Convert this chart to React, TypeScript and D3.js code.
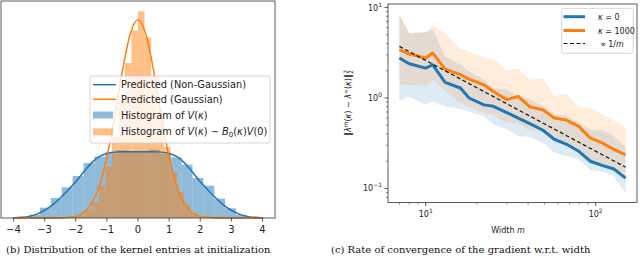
import React from "react";
import * as d3 from "d3";

// ---------- left panel: histograms + predicted densities ----------
const gridX = [-4, -3.75, -3.5, -3.25, -3, -2.75, -2.5, -2.25, -2, -1.75, -1.5, -1.25, -1, -0.75, -0.5, -0.25, 0,
  0.25, 0.5, 0.75, 1, 1.25, 1.5, 1.75, 2, 2.25, 2.5, 2.75, 3, 3.25, 3.5, 3.75, 4];
const predNonGauss = [0, 0.002, 0.005, 0.012, 0.024, 0.04, 0.062, 0.086, 0.112, 0.142, 0.17, 0.19, 0.2, 0.204, 0.205, 0.205, 0.205,
  0.205, 0.205, 0.204, 0.2, 0.19, 0.17, 0.142, 0.112, 0.086, 0.062, 0.04, 0.024, 0.012, 0.005, 0.002, 0];
const predGauss = [0, 0, 0, 0, 0, 0, 0, 0.002, 0.005, 0.016, 0.043, 0.097, 0.188, 0.315, 0.457, 0.57, 0.614,
  0.57, 0.457, 0.315, 0.188, 0.097, 0.043, 0.016, 0.005, 0.002, 0, 0, 0, 0, 0, 0, 0];

const binsV = [-3.5, -3.15, -2.8, -2.45, -2.1, -1.75, -1.4, -1.05, -0.7, -0.35, 0, 0.35, 0.7, 1.05, 1.4, 1.75, 2.1, 2.45, 2.8, 3.15, 3.5];
const histV = [0.01, 0.032, 0.062, 0.095, 0.13, 0.17, 0.19, 0.205, 0.21, 0.205, 0.208, 0.212, 0.2, 0.188, 0.165, 0.124, 0.1, 0.06, 0.03, 0.01];
const binsVB = [-2.1, -1.89, -1.68, -1.47, -1.26, -1.05, -0.84, -0.63, -0.42, -0.21, 0, 0.21, 0.42, 0.63, 0.84, 1.05, 1.26, 1.47, 1.68, 1.89, 2.1];
const histVB = [0.004, 0.01, 0.025, 0.05, 0.1, 0.16, 0.25, 0.36, 0.48, 0.58, 0.64, 0.56, 0.44, 0.33, 0.22, 0.14, 0.08, 0.04, 0.015, 0.005];
const xTicksL = [-4, -3, -2, -1, 0, 1, 2, 3, 4];

// ---------- right panel: convergence vs width ----------
const widths = [7, 8, 10, 11, 13, 16, 18, 22, 25, 30, 35, 41, 49, 57, 67, 79, 93, 109, 128, 150];
const errK0 = [2.77, 2.39, 2.14, 2.33, 1.49, 1.29, 1.0, 0.84, 0.81, 0.69, 0.6, 0.52, 0.44, 0.35, 0.31, 0.26, 0.2, 0.18, 0.164, 0.13];
const errK0Lo = [0.92, 1.04, 0.84, 0.92, 0.81, 0.75, 0.71, 0.63, 0.51, 0.45, 0.38, 0.37, 0.32, 0.25, 0.23, 0.21, 0.16, 0.155, 0.136, 0.09];
const errK0Hi = [8.3, 5.2, 5.3, 5.7, 2.88, 2.33, 1.97, 1.59, 1.29, 1.23, 1.04, 0.96, 0.81, 0.65, 0.65, 0.53, 0.45, 0.44, 0.38, 0.29];
const errK1000 = [3.42, 3.06, 2.77, 3.14, 2.09, 1.81, 1.62, 1.4, 1.18, 0.96, 1.04, 0.8, 0.74, 0.6, 0.57, 0.49, 0.36, 0.32, 0.27, 0.236];
const errK1000Lo = [1.4, 1.4, 1.37, 1.59, 1.21, 0.88, 0.81, 0.68, 0.65, 0.53, 0.53, 0.43, 0.42, 0.35, 0.31, 0.257, 0.19, 0.18, 0.16, 0.149];
const errK1000Hi = [8.3, 5.2, 5.4, 6.3, 5.2, 3.5, 3.27, 2.77, 2.7, 2.02, 2.1, 1.59, 1.65, 1.04, 1.13, 0.8, 0.77, 0.66, 0.56, 0.47];
const refM = [7, 150];
const refVal = [3.72, 0.172];

const BLUE = "#1f77b4";
const ORANGE = "#ff7f0e";
const FONT = "DejaVu Sans, sans-serif";

function LeftPanel() {
  const x = d3.scaleLinear().domain([-4.4, 4.4]).range([1, 275]);
  const y = d3.scaleLinear().domain([0, 0.672]).range([218, 1]);
  const line = d3.line<number>().x((d, i) => x(gridX[i])).y(d => y(d)).curve(d3.curveMonotoneX);

  const bars = (edges: number[], h: number[], color: string) =>
    h.map((v, i) => (
      <rect key={i} x={x(edges[i])} y={y(v)} width={x(edges[i + 1]) - x(edges[i])} height={y(0) - y(v)}
        fill={color} fillOpacity={0.5} />
    ));

  const lx = 90, ly = 76;
  return (
    <g>
      {bars(binsV, histV, BLUE)}
      {bars(binsVB, histVB, ORANGE)}
      <path d={line(predNonGauss)!} fill="none" stroke={BLUE} strokeWidth={1.5} />
      <path d={line(predGauss)!} fill="none" stroke={ORANGE} strokeWidth={1.5} />
      <rect x={1} y={1} width={274} height={217} fill="none" stroke="#333" strokeWidth={0.8} />
      {xTicksL.map(t => (
        <g key={t} transform={`translate(${x(t)},218)`}>
          <line y2={3.5} stroke="#333" strokeWidth={0.8} />
          <text y={15} textAnchor="middle" fontSize={10} fontFamily={FONT} fill="#222">
            {t < 0 ? "\u2212" + Math.abs(t) : t}
          </text>
        </g>
      ))}
      {/* legend */}
      <rect x={lx} y={ly} width={180} height={67} rx={2} fill="white" fillOpacity={0.8} stroke="#ccc" strokeWidth={0.8} />
      <line x1={93} x2={116} y1={84.7} y2={84.7} stroke={BLUE} strokeWidth={1.5} />
      <line x1={93} x2={116} y1={99.3} y2={99.3} stroke={ORANGE} strokeWidth={1.5} />
      <rect x={93} y={111.5} width={20} height={7} fill={BLUE} fillOpacity={0.5} />
      <rect x={93} y={128.3} width={20} height={7} fill={ORANGE} fillOpacity={0.5} />
      <g fontSize={9.8} fontFamily={FONT} fill="#222">
        <text x={121} y={88}>Predicted (Non-Gaussian)</text>
        <text x={121} y={102.6}>Predicted (Gaussian)</text>
        <text x={121} y={118.6}>Histogram of <tspan fontStyle="italic">V</tspan>(<tspan fontStyle="italic">κ</tspan>)</text>
        <text x={121} y={135.3}>Histogram of <tspan fontStyle="italic">V</tspan>(<tspan fontStyle="italic">κ</tspan>) − <tspan fontStyle="italic">B</tspan><tspan fontSize={7} dy={2}>0</tspan><tspan dy={-2}>(</tspan><tspan fontStyle="italic">κ</tspan>)<tspan fontStyle="italic">V</tspan>(0)</text>
      </g>
    </g>
  );
}

function RightPanel() {
  const x = d3.scaleLog().domain([6.0, 175]).range([388, 637]);
  const y = d3.scaleLog().domain([0.07, 10.94]).range([202.5, 4]);
  const line = d3.line<number>().x((d, i) => x(widths[i])).y(d => y(d));
  const band = (lo: number[], hi: number[]) =>
    d3.area<number>().x((d, i) => x(widths[i])).y0((d, i) => y(lo[i])).y1(d => y(d))(hi)!;

  const xMinor = [7, 8, 9, 20, 30, 40, 50, 60, 70, 80, 90];
  const yMinor = [0.08, 0.09, 0.2, 0.3, 0.4, 0.5, 0.6, 0.7, 0.8, 0.9, 2, 3, 4, 5, 6, 7, 8, 9];
  const sup = (e: string) => (
    <>10<tspan fontSize={6} dy={-4}>{e}</tspan></>
  );

  return (
    <g>
      <path d={band(errK0Lo, errK0Hi)} fill={BLUE} fillOpacity={0.15} />
      <path d={band(errK1000Lo, errK1000Hi)} fill={ORANGE} fillOpacity={0.15} />
      <path d={line(errK0)!} fill="none" stroke={BLUE} strokeWidth={3} strokeLinejoin="round" />
      <path d={line(errK1000)!} fill="none" stroke={ORANGE} strokeWidth={3} strokeLinejoin="round" />
      <path d={d3.line<number>().x((d, i) => x(refM[i])).y(d => y(d))(refVal)!} fill="none" stroke="#111"
        strokeWidth={1.2} strokeDasharray="4,2.5" />
      <rect x={388} y={4} width={249} height={198.5} fill="none" stroke="#333" strokeWidth={0.8} />
      {[10, 100].map(t => (
        <g key={t} transform={`translate(${x(t)},202.5)`}>
          <line y2={3.5} stroke="#333" strokeWidth={0.8} />
          <text y={14} textAnchor="middle" fontSize={8} fontFamily={FONT} fill="#222">{sup(t === 10 ? "1" : "2")}</text>
        </g>
      ))}
      {xMinor.map(t => <line key={t} x1={x(t)} x2={x(t)} y1={202.5} y2={204.5} stroke="#333" strokeWidth={0.6} />)}
      {[0.1, 1, 10].map(t => (
        <g key={t} transform={`translate(388,${y(t)})`}>
          <line x2={-3.5} stroke="#333" strokeWidth={0.8} />
          <text x={-6} y={3} textAnchor="end" fontSize={8} fontFamily={FONT} fill="#222">{sup(t === 0.1 ? "\u22121" : t === 1 ? "0" : "1")}</text>
        </g>
      ))}
      {yMinor.map(t => <line key={t} x1={388} x2={386} y1={y(t)} y2={y(t)} stroke="#333" strokeWidth={0.6} />)}
      <text x={508} y={233} textAnchor="middle" fontSize={8} fontFamily={FONT} fill="#222">Width <tspan fontStyle="italic">m</tspan></text>
      <text transform="translate(351,103) rotate(-90)" textAnchor="middle" fontSize={8} fontFamily={FONT} fill="#222">
        ‖<tspan fontStyle="italic">λ</tspan><tspan fontSize={6} dy={-3} fontStyle="italic">m</tspan><tspan dy={3}>(</tspan><tspan fontStyle="italic">κ</tspan>) − <tspan fontStyle="italic">λ</tspan><tspan fontSize={6} dy={-3}>∞</tspan><tspan dy={3}>(</tspan><tspan fontStyle="italic">κ</tspan>)‖<tspan fontSize={6} dy={2}>2</tspan><tspan fontSize={6} dx={-3.5} dy={-5}>2</tspan>
      </text>
      {/* legend */}
      <rect x={561.7} y={8.3} width={71.6} height={45} rx={2} fill="white" fillOpacity={0.8} stroke="#ccc" strokeWidth={0.8} />
      <line x1={563.5} x2={585} y1={16.7} y2={16.7} stroke={BLUE} strokeWidth={3} />
      <line x1={563.5} x2={585} y1={30.5} y2={30.5} stroke={ORANGE} strokeWidth={3} />
      <line x1={563.5} x2={585} y1={43.5} y2={43.5} stroke="#111" strokeWidth={1.2} strokeDasharray="4,2.5" />
      <g fontSize={8} fontFamily={FONT} fill="#222">
        <text x={598} y={19.5}><tspan fontStyle="italic">κ</tspan> = 0</text>
        <text x={598} y={33.5}><tspan fontStyle="italic">κ</tspan> = 1000</text>
        <text x={600} y={46.5}>∝ 1/<tspan fontStyle="italic">m</tspan></text>
      </g>
    </g>
  );
}

export default function App() {
  return (
    <svg width={640} height={256} style={{ position: "absolute", left: 0, top: 0, background: "white" }}>
      <rect width={640} height={256} fill="white" />
      <LeftPanel />
      <RightPanel />
      <g fontFamily="DejaVu Serif, serif" fontSize={10} fill="#111">
        <text x={6} y={253}>(b) Distribution of the kernel entries at initialization</text>
        <text x={331} y={253}>(c) Rate of convergence of the gradient w.r.t. width</text>
      </g>
    </svg>
  );
}
